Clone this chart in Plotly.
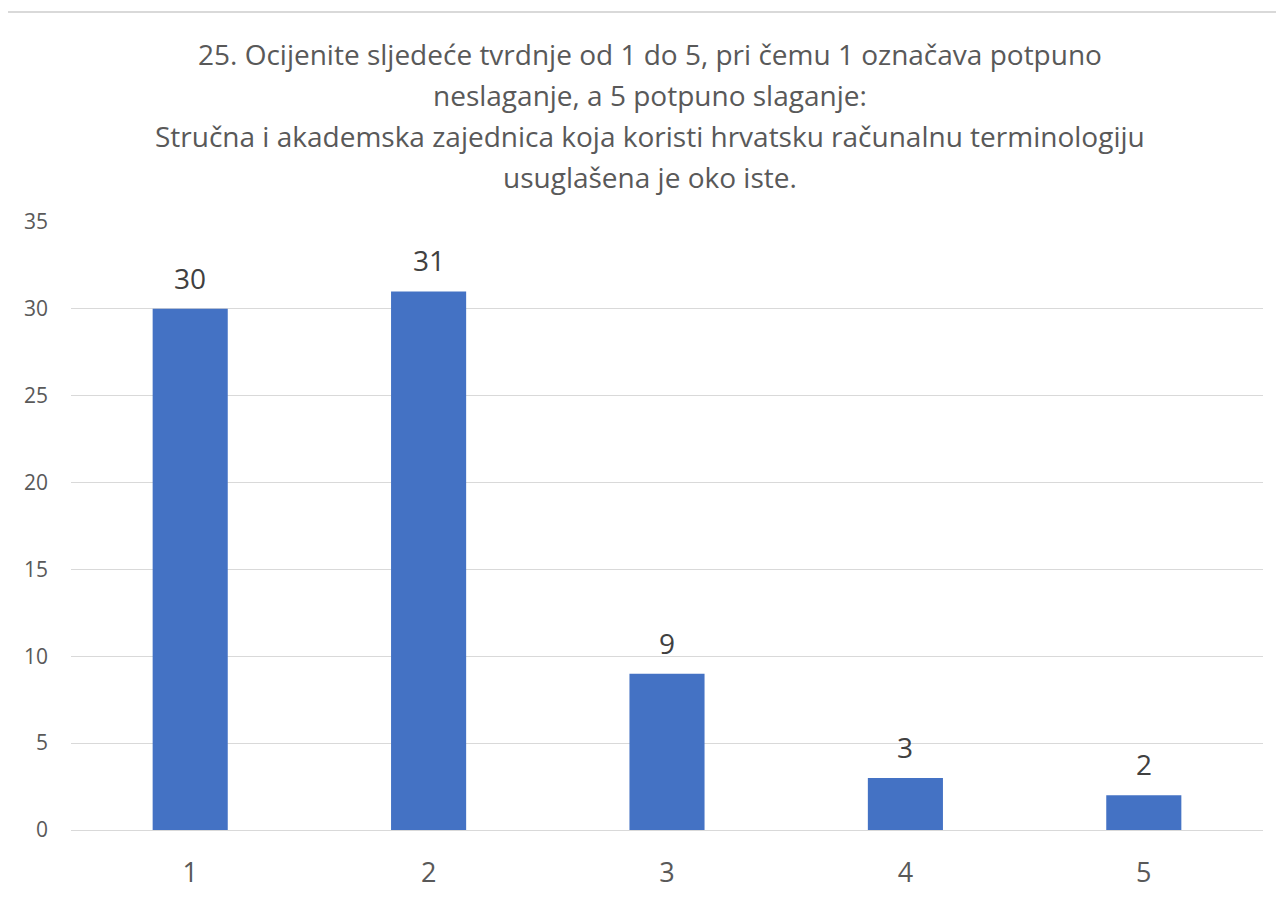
import plotly.graph_objects as go

categories = ["1", "2", "3", "4", "5"]
counts = [30, 31, 9, 3, 2]
y_ticks = [0, 5, 10, 15, 20, 25, 30, 35]
title_lines = [
    "25. Ocijenite sljedeće tvrdnje od 1 do 5, pri čemu 1 označava potpuno",
    "neslaganje, a 5 potpuno slaganje:",
    "Stručna i akademska zajednica koja koristi hrvatsku računalnu terminologiju",
    "usuglašena je oko iste.",
]

OFF = 8  # page body margin
W, H = 1284, 902
L, R, T, B = 71 - OFF, 1263 - OFF, 222 - OFF, 830 - OFF
FONT = "Open Sans"

fig = go.Figure(go.Bar(
    x=categories, y=counts, marker=dict(color="#4472C4", line=dict(width=0)),
    width=0.315, hoverinfo="skip",
))

annotations = []
for i, v in enumerate(counts):
    annotations.append(dict(x=i, y=v, xref="x", yref="y", text=str(v), showarrow=False,
                            yanchor="middle", yshift=31,
                            font=dict(family=FONT, size=28, color="#404040")))

def py(pix):
    return (B - (pix - OFF)) / (B - T)

def px(pix):
    return ((pix - OFF) - L) / (R - L)

for i, line in enumerate(title_lines):
    annotations.append(dict(x=px(650), y=py(54 + 41 * i), xref="paper", yref="paper",
                            text=line, showarrow=False, xanchor="center", yanchor="middle",
                            font=dict(family=FONT, size=28, color="#595959")))

fig.update_layout(
    width=W, height=H,
    margin=dict(l=L, r=W - R, t=T, b=H - B, pad=0),
    paper_bgcolor="white", plot_bgcolor="white",
    showlegend=False,
    annotations=annotations,
    shapes=[dict(type="rect", xref="paper", yref="paper",
                 x0=px(7), x1=px(1300), y0=py(915), y1=py(12),
                 line=dict(color="#d9d9d9", width=2), layer="below")],
    xaxis=dict(type="category", showgrid=False, showline=True, linecolor="#d9d9d9",
               linewidth=1, ticks="", tickfont=dict(family=FONT, size=27, color="#595959"),
               ticklabelstandoff=19, range=[-0.5, 4.5], fixedrange=True),
    yaxis=dict(range=[0, 35], tickvals=y_ticks, showgrid=True, gridcolor="#d9d9d9",
               gridwidth=1, zeroline=False, showline=False, ticks="",
               tickfont=dict(family=FONT, size=21, color="#595959"),
               ticklabelstandoff=22, fixedrange=True),
)

fig.write_html("out.html")
